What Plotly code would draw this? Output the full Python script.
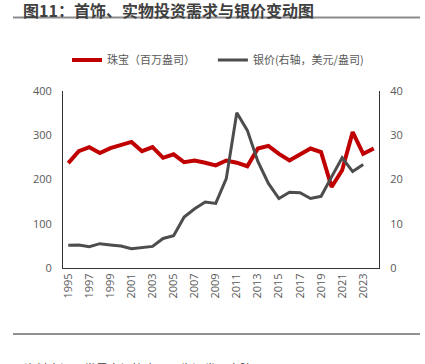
import plotly.graph_objects as go

years = [str(y) for y in range(1995, 2025)]
jewelry = [237, 264, 273, 260, 271, 277, 285, 264, 273, 249, 257, 239, 243, 238, 232,
           243, 238, 230, 270, 276, 258, 243, 257, 270, 262, 183, 221, 307, 258, 270]
silver_years = [str(y) for y in range(1995, 2024)]
silver = [5.15, 5.2, 4.8, 5.5, 5.2, 4.95, 4.37, 4.6, 4.88, 6.67, 7.3, 11.5, 13.4, 14.9, 14.6,
          20.2, 35.1, 31.1, 24.1, 19.1, 15.7, 17.1, 17.0, 15.7, 16.2, 20.6, 24.9, 21.8, 23.4]
xtick_labels = [str(y) for y in range(1995, 2025, 2)]

W, H = 425, 364
L, R, T, B = 63, 46, 91, 96
pw, ph = W - L - R, H - T - B

def px(x):
    return (x - L) / pw

def py(y):
    return (H - B - y) / ph

fig = go.Figure()
fig.add_trace(go.Scatter(x=years, y=jewelry, mode="lines",
                         name="珠宝（百万盎司）\u3000\u00a0\u00a0\u00a0",
                         line=dict(color="#C00000", width=4)))
fig.add_trace(go.Scatter(x=silver_years, y=silver, mode="lines", name="银价(右轴，美元/盎司)",
                         line=dict(color="#4D4D4D", width=3), yaxis="y2"))

fig.update_layout(
    width=W, height=H,
    margin=dict(l=L, r=R, t=T, b=B),
    paper_bgcolor="white", plot_bgcolor="white",
    font=dict(family="Open Sans, Noto Sans CJK SC", size=11, color="#595959"),
    showlegend=True,
    legend=dict(orientation="h", x=px(67), y=py(60), xanchor="left", yanchor="middle",
                font=dict(family="Noto Sans CJK SC", size=11, color="#595959"),
                itemwidth=30, tracegroupgap=0, bgcolor="rgba(0,0,0,0)"),
    xaxis=dict(type="category", categoryorder="array", categoryarray=years,
               range=[-0.5, 29.5], tickangle=-90, tickmode="array",
               tickvals=xtick_labels, ticktext=xtick_labels,
               showline=True, linecolor="#333333", linewidth=1, showgrid=False,
               ticks="", zeroline=False),
    yaxis=dict(range=[0, 400], dtick=100, showline=True, linecolor="#333333", linewidth=1,
               showgrid=False, zeroline=False, ticks="", ticklabelstandoff=8),
    yaxis2=dict(range=[0, 40], dtick=10, overlaying="y", side="right", showline=True,
                linecolor="#333333", linewidth=1, showgrid=False, zeroline=False,
                ticks="", ticklabelstandoff=8),
)

fig.add_annotation(text="<b>图11：首饰、实物投资需求与银价变动图</b>", xref="paper", yref="paper",
                   x=px(21), y=py(9.5), xanchor="left", yanchor="middle", showarrow=False,
                   font=dict(family="Noto Sans CJK SC", size=16, color="#404040"))
fig.add_shape(type="line", xref="paper", yref="paper", x0=px(13), x1=px(420),
              y0=py(17.5), y1=py(17.5), line=dict(color="#8C8C8C", width=2))
fig.add_shape(type="line", xref="paper", yref="paper", x0=px(13), x1=px(420),
              y0=py(334), y1=py(334), line=dict(color="#222222", width=1))
fig.add_annotation(text="资料来源：世界白银协会，民生证券研究院", xref="paper", yref="paper",
                   x=px(22), y=py(358), xanchor="left", yanchor="top", showarrow=False,
                   font=dict(family="Noto Sans CJK SC", size=12, color="#404040"))

fig.write_html("out.html", config={"displayModeBar": False},
               post_script="document.body.style.margin='0';")
